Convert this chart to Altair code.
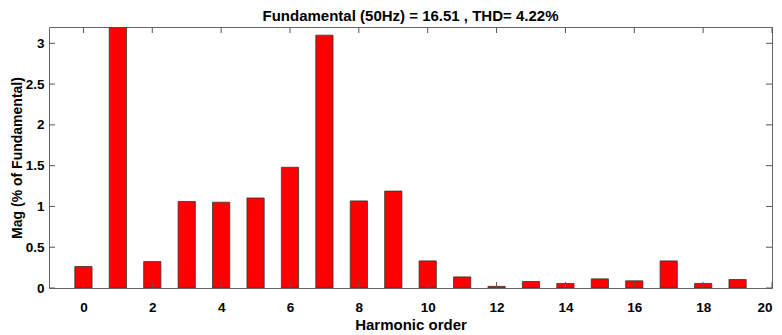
import altair as alt
import pandas as pd

harmonics = list(range(0, 20))
mags = [0.264, 100.0, 0.324, 1.061, 1.052, 1.104, 1.48, 3.10, 1.068, 1.188,
        0.332, 0.136, 0.02, 0.08, 0.056, 0.112, 0.088, 0.332, 0.056, 0.104]
x_ticks = list(range(0, 21, 2))
y_ticks = [0, 0.5, 1, 1.5, 2, 2.5, 3]

W, H = 723, 261
FONT = "Liberation Sans"

bars_df = pd.DataFrame({"h": harmonics, "mag": mags})
xt_df = pd.DataFrame({"t": x_ticks})
yt_df = pd.DataFrame({"t": y_ticks})

xscale = alt.Scale(domain=[-1, 20], nice=False, zero=False)
yscale = alt.Scale(domain=[0, 3.2], nice=False)

bars = alt.Chart(bars_df).transform_calculate(
    x0="datum.h - 0.25", x1="datum.h + 0.25"
).mark_bar(color="#ff0000", stroke="#333333", strokeWidth=0.8, clip=True).encode(
    x=alt.X("x0:Q", scale=xscale,
            axis=alt.Axis(values=x_ticks, title="Harmonic order", tickSize=0,
                          domain=False, grid=False, labelPadding=12,
                          titlePadding=4, format="~g", titleFontSize=15)),
    x2="x1:Q",
    y=alt.Y("mag:Q", scale=yscale,
            axis=alt.Axis(values=y_ticks, title="Mag (% of Fundamental)", tickSize=0,
                          domain=False, grid=False, labelPadding=5,
                          titlePadding=1, format="~g", titleFontSize=14)),
    y2=alt.datum(0),
)

tick_len = 6
xb = alt.Chart(xt_df).mark_rule(color="#555555", strokeWidth=1).encode(
    x=alt.X("t:Q", scale=xscale), y=alt.value(H), y2=alt.value(H - tick_len))
xtop = alt.Chart(xt_df).mark_rule(color="#555555", strokeWidth=1).encode(
    x=alt.X("t:Q", scale=xscale), y=alt.value(0), y2=alt.value(tick_len))
yl = alt.Chart(yt_df).mark_rule(color="#555555", strokeWidth=1).encode(
    y=alt.Y("t:Q", scale=yscale), x=alt.value(0), x2=alt.value(tick_len))
yr = alt.Chart(yt_df).mark_rule(color="#555555", strokeWidth=1).encode(
    y=alt.Y("t:Q", scale=yscale), x=alt.value(W - tick_len), x2=alt.value(W))

chart = alt.layer(bars, xb, xtop, yl, yr).properties(
    width=W, height=H,
    background="white",
    title=alt.TitleParams("Fundamental (50Hz) = 16.51 , THD= 4.22%",
                          font=FONT, fontSize=15, fontWeight="bold",
                          color="#000000", offset=3),
    autosize=alt.AutoSizeParams(type="none"),
    padding={"left": 41, "top": 19, "right": 2, "bottom": 47},
).configure_view(stroke="#666666", strokeWidth=1).configure_axis(
    labelFont=FONT, labelFontSize=13.5, labelFontWeight="bold", labelColor="#000000",
    titleFont=FONT, titleFontWeight="bold", titleColor="#000000",
)

chart.save("out.html", embed_options={"renderer": "svg", "actions": False})
